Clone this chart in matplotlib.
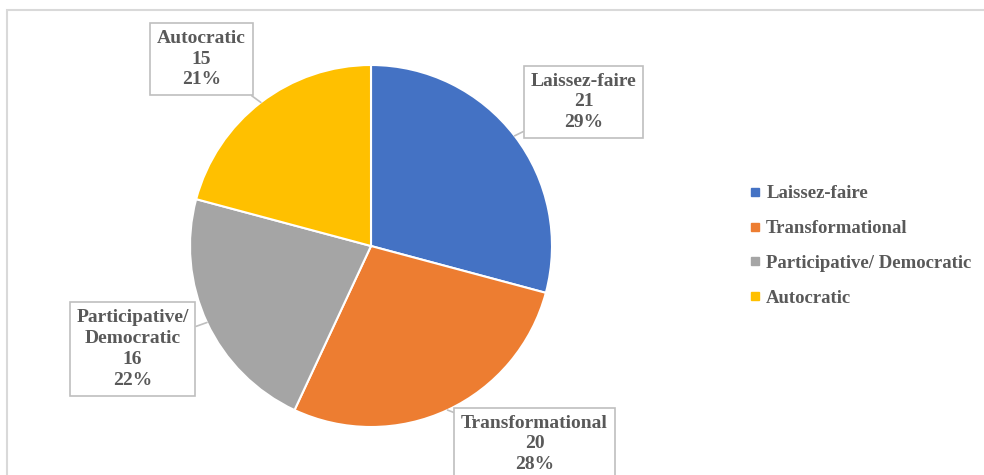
import numpy as np
import matplotlib
matplotlib.use("Agg")
import matplotlib.pyplot as plt
from matplotlib.lines import Line2D
from matplotlib.patches import Rectangle

styles = ["Laissez-faire", "Transformational", "Participative/ Democratic", "Autocratic"]
box_names = ["Laissez-faire", "Transformational", "Participative/\nDemocratic", "Autocratic"]
counts = [21, 20, 16, 15]
percents = ["29%", "28%", "22%", "21%"]
colors = ["#4472C4", "#ED7D31", "#A5A5A5", "#FFC000"]

plt.rcParams['font.family'] = ['Liberation Serif', 'DejaVu Serif']
plt.rcParams['font.weight'] = 'bold'

W, H = 984, 475
fig = plt.figure(figsize=(W / 100, H / 100), dpi=100)

# pie centre and radius in pixels
cx, cy, r = 371, 246, 181
ax = fig.add_axes([(cx - r) / W, (H - cy - r) / H, 2 * r / W, 2 * r / H])

wedges, _ = ax.pie(counts, colors=colors, startangle=90, counterclock=False, radius=1,
                   wedgeprops=dict(edgecolor='white', linewidth=1.5))
ax.set_xlim(-1, 1)
ax.set_ylim(-1, 1)
ax.set_aspect('equal')
ax.axis('off')

def px(x, y):
    return ((x - cx) / r, (cy - y) / r)

# label box centres (pixels)
box_pos = [(583.5, 102), (534.5, 444), (132.5, 349), (201.5, 59)]

txt_col = '#595959'
for w, name, n, p, pos in zip(wedges, box_names, counts, percents, box_pos):
    ang = np.deg2rad((w.theta1 + w.theta2) / 2)
    anchor = (np.cos(ang), np.sin(ang))
    ax.annotate(f"{name}\n{n}\n{p}", xy=anchor, xytext=px(*pos),
                ha='center', va='center', fontsize=14, color=txt_col,
                fontweight='bold', linespacing=1.3, annotation_clip=False,
                bbox=dict(boxstyle='square,pad=0.35', fc='white', ec='#BFBFBF', lw=1.2),
                arrowprops=dict(arrowstyle='-', color='#BFBFBF', lw=1.2,
                                shrinkA=0, shrinkB=0))

handles = [Line2D([], [], marker='s', linestyle='none', markersize=6,
                  markerfacecolor=c, markeredgecolor=c) for c in colors]
fig.legend(handles, styles, loc='center left', bbox_to_anchor=(740 / W, (H - 246) / H),
           frameon=False, fontsize=13.5, labelcolor=txt_col, handlelength=0.6,
           handletextpad=0.3, labelspacing=0.95, borderpad=0)

# chart area border
fig.add_artist(Rectangle((7 / W, -0.05), 1.1, (H - 10) / H + 0.05, transform=fig.transFigure,
                         fill=False, ec='#D9D9D9', lw=1.5))

fig.savefig("out.png", dpi=100)
